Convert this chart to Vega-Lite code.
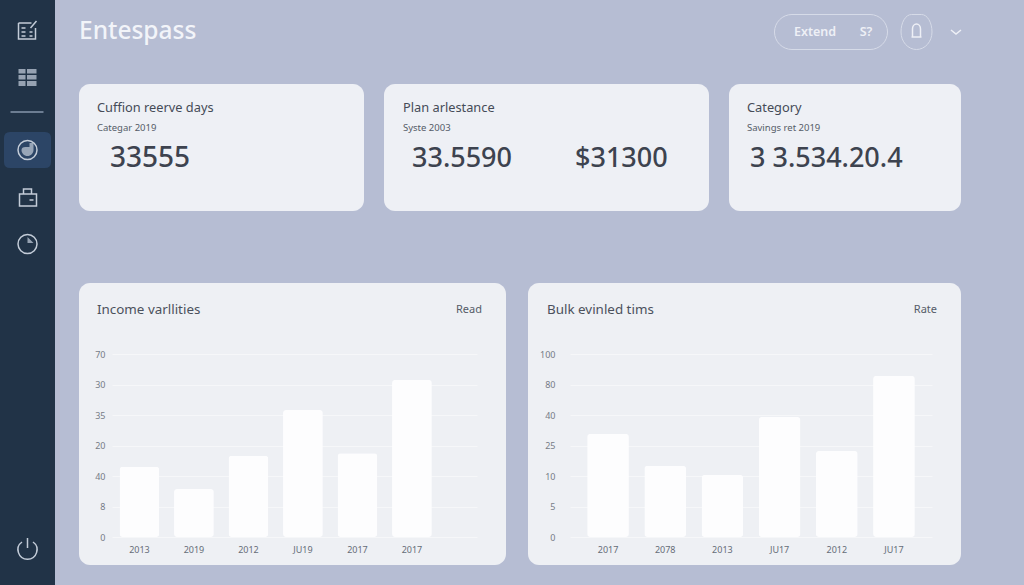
{
"$schema":"https://vega.github.io/schema/vega-lite/v6.json",
"background":"#b6bdd3","padding":0,"bounds":"flush",
"resolve":{"scale":{"shape":"independent"}},
"config":{"view":{"stroke":null},"font":"Noto Sans","text":{"font":"Noto Sans","baseline":"middle"}},
"datasets":{
"side":[
{"icon":"highlight","order":3,"slot":0},
{"icon":"note","order":0,"slot":0},{"icon":"grid","order":1,"slot":0},{"icon":"divider","order":2,"slot":0},
{"icon":"ring","order":3,"slot":0},{"icon":"core","order":3,"slot":0},{"icon":"wallet","order":4,"slot":0},
{"icon":"clock","order":5,"slot":0},{"icon":"wedge","order":5,"slot":0},{"icon":"power","order":6,"slot":0}],
"head":[
{"item":"title","label":"Entespass","col":0},
{"item":"pill","col":1},{"item":"bellpill","col":4},{"item":"bell","col":4},{"item":"chevron","col":5},
{"item":"action","label":"Extend","col":2},{"item":"action","label":"S?","col":3}],
"bars1":[{"id":"2013-a","value":23},{"id":"2019-a","value":15.7},{"id":"2012-a","value":26.6},{"id":"JU19-a","value":41.6},{"id":"2017-a","value":27.5},{"id":"2017-b","value":51.5}],
"bars2":[{"id":"2017-a","value":30.7},{"id":"2078-a","value":15},{"id":"2013-a","value":10.5},{"id":"JU17-a","value":39},{"id":"2012-a","value":22.3},{"id":"JU17-b","value":85.6}]
},
"hconcat":[
{"width":55,"height":585,"view":{"fill":"#213347","stroke":null},
 "data":{"name":"side"},
 "encoding":{
  "x":{"field":"slot","type":"quantitative","axis":null,"scale":{"domain":[0,1],"range":[27.5,55],"nice":false,"zero":false}},
  "y":{"field":"order","type":"quantitative","axis":null,"scale":{"domain":[0,1,2,3,4,5,6],"range":[30,78,112,150,198,244,549],"nice":false,"zero":false}},
  "shape":{"field":"icon","type":"nominal","legend":null,"scale":{
   "domain":["highlight","note","grid","divider","ring","core","wallet","clock","wedge","power"],
   "range":[
   "M-17.5,-18 H17.5 Q23.5,-18 23.5,-12 V12 Q23.5,18 17.5,18 H-17.5 Q-23.5,18 -23.5,12 V-12 Q-23.5,-18 -17.5,-18 Z",
   "M-9,-7 H4 M-9,-7 V9 H8 V-2 M-6,-2 H-2 M-6,2 H-2 M-6,6 H-2 M2,2 H5 M2,6 H5 M3,-2 L9,-9",
   "M-9,-9 H-2 V-4.5 H-9 Z M-0.5,-9 H9 V-4.5 H-0.5 Z M-9,-3 H-2 V1.5 H-9 Z M-0.5,-3 H9 V1.5 H-0.5 Z M-9,3 H-2 V8 H-9 Z M-0.5,3 H9 V8 H-0.5 Z",
   "M-17,0 H16",
   "M-9.5,0 A9.5,9.5 0 1,1 9.5,0 A9.5,9.5 0 1,1 -9.5,0 Z",
   "M-6,0 A6,6 0 1,0 6,0 V-7 H2 V-3 H-2 Q-6,-3 -6,0 Z",
   "M-8,-4 H9 V8 H-8 Z M-4,-4 V-9 H4 V-4 M2,2 H6",
   "M-9.5,0 A9.5,9.5 0 1,1 9.5,0 A9.5,9.5 0 1,1 -9.5,0 Z",
   "M0,-7 L6,-1 H0 Z",
   "M-5.5,-7 A9.5,9.5 0 1,0 5.5,-7 M0,-11 V-1"]}}
 },
 "layer":[
  {"transform":[{"filter":"datum.icon==='highlight'"}],"mark":{"type":"point","size":4,"filled":true,"fill":"#2c4566","stroke":null,"opacity":1}},
  {"transform":[{"filter":"indexof(['grid','core','wedge'],datum.icon)>=0"}],"mark":{"type":"point","size":4,"filled":true,"fill":"#aab6c6","stroke":null,"opacity":0.85}},
  {"transform":[{"filter":"datum.icon==='divider'"}],"mark":{"type":"point","size":4,"filled":false,"stroke":"#6c7d92","strokeWidth":2,"opacity":1}},
  {"transform":[{"filter":"indexof(['note','ring','wallet','clock','power'],datum.icon)>=0"}],"mark":{"type":"point","size":4,"filled":false,"stroke":"#c3ccd8","strokeWidth":1.5,"opacity":1}}
 ]},
{"resolve":{"scale":{"shape":"independent"}},"vconcat":[
 {"vconcat":[
  {"width":945,"height":84,"data":{"name":"head"},
   "encoding":{
    "x":{"field":"col","type":"quantitative","axis":null,"scale":{"domain":[0,1,2,3,4,5],"range":[0,752,736,787,837.5,877],"nice":false,"zero":false}},
    "y":{"datum":0,"type":"quantitative","axis":null,"scale":{"domain":[0,1],"range":[32,84],"nice":false,"zero":false}},
    "shape":{"field":"item","type":"nominal","legend":null,"scale":{"domain":["pill","bellpill","bell","chevron"],"range":[
     "M-39,-17.5 H39 A17.5,17.5 0 0,1 39,17.5 H-39 A17.5,17.5 0 0,1 -39,-17.5 Z",
     "M-5,-17.5 H5 A10.5,17.5 0 0,1 15.5,0 A15.5,17.5 0 0,1 0,17.5 A15.5,17.5 0 0,1 -15.5,0 A10.5,17.5 0 0,1 -5,-17.5 Z",
     "M-4,5 V-3 A4,5 0 0,1 4,-3 V5 Z M-5,5 H5",
     "M-5,-2 L0,2 L5,-2"]}}
   },
   "layer":[
    {"transform":[{"filter":"datum.item==='pill'||datum.item==='bellpill'"}],"mark":{"type":"point","size":4,"filled":false,"stroke":"#dfe3ee","strokeWidth":1,"opacity":0.8}},
    {"transform":[{"filter":"datum.item==='bell'||datum.item==='chevron'"}],"mark":{"type":"point","size":4,"filled":false,"stroke":"#eef0f6","strokeWidth":1.5,"opacity":1}},
    {"transform":[{"filter":"datum.item==='title'"}],"mark":{"type":"text","align":"left","fontSize":24.5,"fontWeight":500,"color":"#f2f4f9"},"encoding":{"text":{"field":"label"},"shape":{"value":null}}},
    {"transform":[{"filter":"datum.item==='action'"}],"mark":{"type":"text","align":"center","fontSize":12.5,"fontWeight":600,"color":"#eef0f6"},"encoding":{"text":{"field":"label"},"shape":{"value":null}}}
   ]},
  {"spacing":20,"hconcat":[
   {"width":285,"height":127,"view":{"fill":"#eef0f5","cornerRadius":11,"stroke":null},
    "data":{"values":[{"text":"Cuffion reerve days","line":0,"col":0},{"text":"Categar 2019","line":1,"col":0},{"text":"33555","line":2,"col":1}]},
    "encoding":{"text":{"field":"text"},
     "x":{"field":"col","type":"quantitative","axis":null,"scale":{"domain":[0,1],"range":[18,31],"nice":false,"zero":false}},
     "y":{"field":"line","type":"quantitative","axis":null,"scale":{"domain":[0,1,2],"range":[24,44,75],"nice":false,"zero":false}}},
    "layer":[
     {"transform":[{"filter":"datum.line===0"}],"mark":{"type":"text","align":"left","fontSize":12.8,"color":"#454b57"}},
     {"transform":[{"filter":"datum.line===1"}],"mark":{"type":"text","align":"left","fontSize":9.5,"color":"#555c68"}},
     {"transform":[{"filter":"datum.line===2"}],"mark":{"type":"text","align":"left","fontSize":28,"fontWeight":500,"color":"#3d434f"}}
    ]},
   {"width":325,"height":127,"view":{"fill":"#eef0f5","cornerRadius":11,"stroke":null},
    "data":{"values":[{"text":"Plan arlestance","line":0,"col":0},{"text":"Syste 2003","line":1,"col":0},{"text":"33.5590","line":2,"col":1},{"text":"$31300","line":2,"col":2}]},
    "encoding":{"text":{"field":"text"},
     "x":{"field":"col","type":"quantitative","axis":null,"scale":{"domain":[0,1,2],"range":[19,28,191],"nice":false,"zero":false}},
     "y":{"field":"line","type":"quantitative","axis":null,"scale":{"domain":[0,1,2],"range":[24,44,75],"nice":false,"zero":false}}},
    "layer":[
     {"transform":[{"filter":"datum.line===0"}],"mark":{"type":"text","align":"left","fontSize":12.8,"color":"#454b57"}},
     {"transform":[{"filter":"datum.line===1"}],"mark":{"type":"text","align":"left","fontSize":9.5,"color":"#555c68"}},
     {"transform":[{"filter":"datum.line===2"}],"mark":{"type":"text","align":"left","fontSize":27,"fontWeight":500,"color":"#3d434f"}}
    ]},
   {"width":232,"height":127,"view":{"fill":"#eef0f5","cornerRadius":11,"stroke":null},
    "data":{"values":[{"text":"Category","line":0,"col":0},{"text":"Savings ret 2019","line":1,"col":0},{"text":"3 3.534.20.4","line":2,"col":1}]},
    "encoding":{"text":{"field":"text"},
     "x":{"field":"col","type":"quantitative","axis":null,"scale":{"domain":[0,1],"range":[18,21],"nice":false,"zero":false}},
     "y":{"field":"line","type":"quantitative","axis":null,"scale":{"domain":[0,1,2],"range":[24,44,75],"nice":false,"zero":false}}},
    "layer":[
     {"transform":[{"filter":"datum.line===0"}],"mark":{"type":"text","align":"left","fontSize":12.8,"color":"#454b57"}},
     {"transform":[{"filter":"datum.line===1"}],"mark":{"type":"text","align":"left","fontSize":9.5,"color":"#555c68"}},
     {"transform":[{"filter":"datum.line===2"}],"mark":{"type":"text","align":"left","fontSize":27,"fontWeight":500,"color":"#3d434f"}}
    ]}
  ]}
 ],"spacing":0},
 {"spacing":22,"hconcat":[
  {"width":427,"height":282,"view":{"fill":"#eef0f4","cornerRadius":11,"stroke":null},
   "layer":[
    {"data":{"name":"bars1"},"mark":{"type":"bar","color":"#fdfdfe","cornerRadius":3},
     "encoding":{
      "x":{"field":"id","type":"nominal","sort":null,"title":null,"scale":{"range":[33,398],"paddingInner":0.27,"paddingOuter":0.4835,"align":0.143},
       "axis":{"offset":-28,"labelPadding":8,"domain":false,"ticks":false,"labelAngle":0,"labelFontSize":9,"labelColor":"#666d78","labelExpr":"split(datum.value,'-')[0]"}},
      "y":{"field":"value","type":"quantitative","title":null,"scale":{"domain":[0,60],"range":[254,71],"nice":false,"zero":false},
       "axis":{"values":[0,10,20,30,40,50,60],"offset":-33,"labelPadding":7,"domain":false,"ticks":false,"labelFontSize":9,"labelColor":"#767c87","gridColor":"#f6f7f9","gridWidth":1,"grid":true,"labelExpr":"['0','8','40','20','35','30','70'][datum.value/10]"}}}},
    {"data":{"values":[{"text":"Income varllities","col":0,"row":0},{"text":"Read","col":1,"row":0}]},
     "encoding":{"text":{"field":"text"},
      "x":{"field":"col","type":"quantitative","axis":null,"scale":{"domain":[0,1],"range":[18,403],"nice":false,"zero":false}},
      "y":{"field":"row","type":"quantitative","axis":null,"scale":{"domain":[0,1],"range":[27,60],"nice":false,"zero":false}}},
     "layer":[
      {"transform":[{"filter":"datum.col===0"}],"mark":{"type":"text","align":"left","fontSize":13.4,"color":"#4b515c"}},
      {"transform":[{"filter":"datum.col===1"}],"mark":{"type":"text","align":"right","fontSize":11,"color":"#555c68"}}
     ]}
   ],"resolve":{"scale":{"x":"independent","y":"independent"}}},
  {"width":433,"height":282,"view":{"fill":"#eef0f4","cornerRadius":11,"stroke":null},
   "layer":[
    {"data":{"name":"bars2"},"mark":{"type":"bar","color":"#fdfdfe","cornerRadius":3},
     "encoding":{
      "x":{"field":"id","type":"nominal","sort":null,"title":null,"scale":{"range":[42,404],"paddingInner":0.27,"paddingOuter":0.3},
       "axis":{"offset":-28,"labelPadding":8,"domain":false,"ticks":false,"labelAngle":0,"labelFontSize":9,"labelColor":"#666d78","labelExpr":"split(datum.value,'-')[0]"}},
      "y":{"field":"value","type":"quantitative","title":null,"scale":{"domain":[0,5,10,25,40,80,100],"range":[254,223.5,193,162.5,132,101.5,71],"nice":false,"zero":false},
       "axis":{"values":[0,5,10,25,40,80,100],"offset":-34,"labelPadding":7,"domain":false,"ticks":false,"labelFontSize":9,"labelColor":"#767c87","gridColor":"#f6f7f9","gridWidth":1,"grid":true}}}},
    {"data":{"values":[{"text":"Bulk evinled tims","col":0,"row":0},{"text":"Rate","col":1,"row":0}]},
     "encoding":{"text":{"field":"text"},
      "x":{"field":"col","type":"quantitative","axis":null,"scale":{"domain":[0,1],"range":[19,409],"nice":false,"zero":false}},
      "y":{"field":"row","type":"quantitative","axis":null,"scale":{"domain":[0,1],"range":[27,60],"nice":false,"zero":false}}},
     "layer":[
      {"transform":[{"filter":"datum.col===0"}],"mark":{"type":"text","align":"left","fontSize":13.4,"color":"#4b515c"}},
      {"transform":[{"filter":"datum.col===1"}],"mark":{"type":"text","align":"right","fontSize":11,"color":"#555c68"}}
     ]}
   ],"resolve":{"scale":{"x":"independent","y":"independent"}}}
 ]}
],"spacing":72}
],"spacing":24}
